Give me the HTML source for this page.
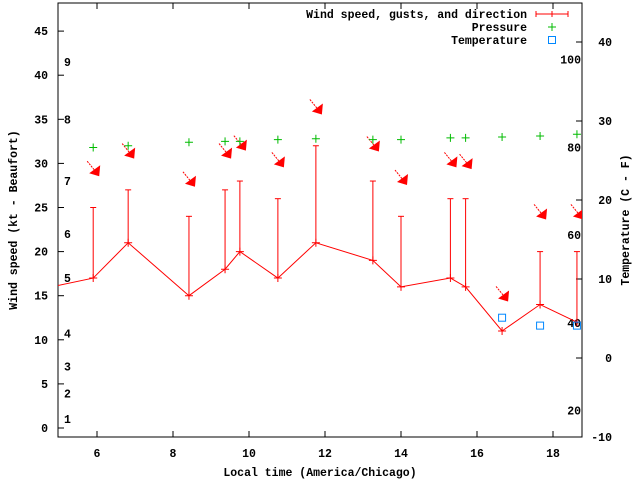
<!DOCTYPE html>
<html><head><meta charset="utf-8"><style>
body{margin:0;background:#fff}
svg{display:block}
text{font-family:"Liberation Mono",monospace;font-size:11.5px;font-weight:bold;fill:#000}
</style></head><body>
<svg id="chart" width="640" height="480" viewBox="0 0 640 480" xmlns="http://www.w3.org/2000/svg">
<defs><clipPath id="clip"><rect x="58" y="3" width="524" height="434"/></clipPath></defs>
<g id="axes"></g>
<g id="plot" clip-path="url(#clip)"></g>
<g id="legend"></g>
</svg>
<script>
const times=[4.8,5.9,6.82,8.42,9.37,9.76,10.76,11.76,13.26,14.0,15.3,15.7,16.66,17.66,18.63];
const speeds=[16,17,21,15,18,20,17,21,19,16,17,16,11,14,12];
const gusts=[null,25,27,24,27,28,26,32,28,24,26,26,null,20,20];
const arrowLevel=[null,29,31,27.8,31,31.9,30,36,31.8,28,30,29.8,14.8,24.1,24.1];
const pressure=[null,31.8,32.0,32.4,32.5,32.5,32.7,32.8,32.7,32.7,32.9,32.9,33.0,33.1,33.3];
const tempTimes=[16.66,17.66,18.63];
const tempC=[5.1,4.1,4.1];
const xTicks=[6,8,10,12,14,16,18];
const yTicks=[0,5,10,15,20,25,30,35,40,45];
const y2Ticks=[-10,0,10,20,30,40];
const fTicks=[20,40,60,80,100];
const beaufort=[1,2,3,4,5,6,7,8,9];
const beaufortKt=[1,3.9,7,10.7,17,22,28,35,41.5];

const L=58,R=582,T=3,B=437;
const X=t=>97+38*(t-6);
const Y=v=>428-8.82*v;
const YC=c=>358-7.9*c;
const YF=f=>YC((f-32)*5/9);
const NS="http://www.w3.org/2000/svg";
function mk(tag,attrs,parent,txt){const e=document.createElementNS(NS,tag);for(const k in attrs)e.setAttribute(k,attrs[k]);if(txt!==undefined)e.textContent=txt;parent.appendChild(e);return e;}
const ax=document.getElementById('axes'),pl=document.getElementById('plot'),lg=document.getElementById('legend');

let e=mk('rect',{x:L,y:T,width:R-L,height:B-T,fill:'none',stroke:'#000','stroke-width':1},ax);

xTicks.forEach(t=>{const x=X(t);
 mk('line',{x1:x,y1:B,x2:x,y2:B-6,stroke:'#000'},ax);mk('line',{x1:x,y1:T,x2:x,y2:T+6,stroke:'#000'},ax);
 e=mk('text',{x:x,y:B+20,'text-anchor':'middle'},ax,t);
 });
yTicks.forEach(v=>{const y=Y(v);
 mk('line',{x1:L,y1:y,x2:L+6,y2:y,stroke:'#000'},ax);
 e=mk('text',{x:L-10,y:y+4,'text-anchor':'end'},ax,v);
 });
y2Ticks.forEach(v=>{const y=YC(v);
 mk('line',{x1:R,y1:y,x2:R-6,y2:y,stroke:'#000'},ax);
 e=mk('text',{x:R+30,y:y+4,'text-anchor':'end'},ax,v);
 });
fTicks.forEach(v=>{
 e=mk('text',{x:R-1,y:YF(v)+4,'text-anchor':'end'},ax,v);
 });
beaufort.forEach((b,i)=>{
 e=mk('text',{x:64,y:Y(beaufortKt[i])+4},ax,b);
 });
e=mk('text',{x:320,y:476,'text-anchor':'middle'},ax,'Local time (America/Chicago)');

e=mk('text',{x:0,y:0,'text-anchor':'middle',transform:'translate(17,220) rotate(-90)'},ax,'Wind speed (kt - Beaufort)');

e=mk('text',{x:0,y:0,'text-anchor':'middle',transform:'translate(629,220) rotate(-90)'},ax,'Temperature (C - F)');


times.forEach((t,i)=>{if(gusts[i]==null)return;const x=X(t);
 e=mk('line',{x1:x,y1:Y(speeds[i]),x2:x,y2:Y(gusts[i]),stroke:'#f00'},pl);
 
 mk('line',{x1:x-3,y1:Y(gusts[i]),x2:x+3,y2:Y(gusts[i]),stroke:'#f00'},pl);});
e=mk('polyline',{points:times.map((t,i)=>X(t)+','+Y(speeds[i])).join(' '),fill:'none',stroke:'#f00'},pl);

times.forEach((t,i)=>{const x=X(t),y=Y(speeds[i]);
 e=mk('path',{d:`M${x-4},${y}H${x+4}M${x},${y-4}V${y+4}`,stroke:'#f00'},pl);
 });
times.forEach((t,i)=>{if(arrowLevel[i]==null)return;const x=X(t)+3,y=Y(arrowLevel[i]);
 const g=mk('g',{},pl);
 mk('line',{x1:x-9,y1:y-11,x2:x,y2:y,stroke:'#f00','stroke-dasharray':'2,1'},g);
 mk('polygon',{points:`${x+4},${y-7} ${x-7},${y+1} ${x+3},${y+4}`,fill:'#f00'},g);});
times.forEach((t,i)=>{if(pressure[i]==null)return;const x=X(t),y=Y(pressure[i]);
 e=mk('path',{d:`M${x-4},${y}H${x+4}M${x},${y-4}V${y+4}`,stroke:'#0b0'},pl);
 });
tempTimes.forEach((t,i)=>{const x=X(t),y=YC(tempC[i]);
 e=mk('rect',{x:x-3.5,y:y-3.5,width:7,height:7,fill:'none',stroke:'#08f'},pl);
 });
const lt=['Wind speed, gusts, and direction','Pressure','Temperature'];
lt.forEach((s,i)=>{const y=14+13*i;
 e=mk('text',{x:527,y:y+4,'text-anchor':'end'},lg,s);
 });
mk('path',{d:'M536,14H568M536,11V17M568,11V17M552,11V17',stroke:'#f00'},lg);
mk('path',{d:'M548,27H556M552,23V31',stroke:'#0b0'},lg);
mk('rect',{x:548.5,y:36.5,width:7,height:7,fill:'none',stroke:'#08f'},lg);
</script>
</body></html>
